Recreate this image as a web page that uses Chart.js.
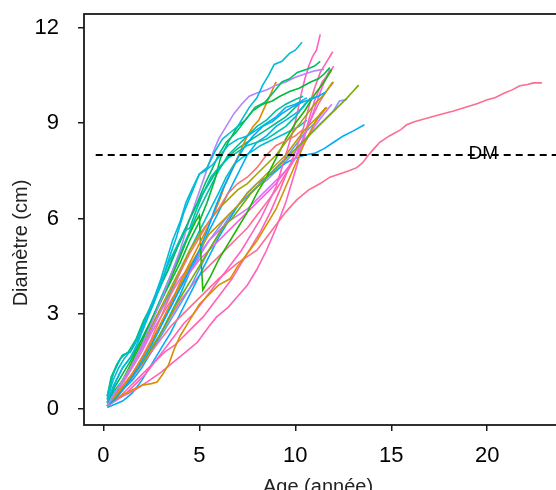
<!DOCTYPE html>
<html>
<head>
<meta charset="utf-8">
<script src="https://cdn.jsdelivr.net/npm/chart.js@4.4.1/dist/chart.umd.min.js"></script>
<style>
  html, body { margin: 0; padding: 0; background: #fff; overflow: hidden; }
  #wrap { width: 600px; height: 490px; }
</style>
</head>
<body>
<div id="wrap"><canvas id="c" width="600" height="490"></canvas></div>
<script>
// tick values
const xTicks = [0, 5, 10, 15, 20];
const yTicks = [0, 3, 6, 9, 12];

// reference diameter (DM) line
const dmValue = 8;
const dmSpan = [-0.4, 24];
const dmLabelAge = 19.8;

// growth curves, [age, diameter]
const tree01 = [[0.2,0.3],[0.5,0.9],[0.8,1.3],[1.1,1.6],[1.5,1.9],[1.9,2.4],[2.3,3.0],[2.7,3.6],[3.0,4.1],[3.3,4.7],[3.6,5.3],[4.0,5.9],[4.3,6.5],[4.6,6.9],[5.0,7.4],[5.4,7.6],[5.8,8.1],[6.2,8.5],[6.6,8.7],[7.0,8.9],[7.3,9.2],[7.6,9.5],[8.0,9.8],[8.3,10.2],[8.6,10.5],[8.9,10.85],[9.3,10.95],[9.7,11.2],[10.0,11.3],[10.35,11.55]];
const tree02 = [[0.2,0.2],[0.6,0.8],[1.0,1.3],[1.4,1.6],[1.8,2.1],[2.2,2.7],[2.6,3.3],[3.0,3.9],[3.4,4.7],[3.8,5.4],[4.2,6.2],[4.6,6.8],[5.0,7.4],[5.3,7.5],[5.7,7.7],[6.1,8.0],[6.5,8.3],[7.0,8.5],[7.5,8.6],[8.0,8.8],[8.5,9.0],[9.0,9.2],[9.5,9.5],[10.0,9.6],[10.6,9.8]];
const tree03 = [[0.2,0.4],[0.4,0.9],[0.7,1.4],[1.0,1.7],[1.4,1.8],[1.8,2.2],[2.2,2.8],[2.6,3.3],[3.0,4.0],[3.4,4.6],[3.8,5.1],[4.2,5.6],[4.5,5.7],[4.8,6.2],[5.2,6.8],[5.6,7.3],[6.0,7.6],[6.5,7.9],[7.0,8.1],[7.5,8.3],[8.0,8.4],[8.5,8.5],[9.0,8.7],[9.5,8.9],[10.0,9.2],[10.5,9.6],[11.0,9.85]];
const tree04 = [[0.2,0.3],[0.5,1.1],[0.9,1.6],[1.3,1.8],[1.7,2.2],[2.1,2.8],[2.5,3.2],[2.9,3.8],[3.3,4.3],[3.7,4.9],[4.1,5.4],[4.5,6.0],[4.9,6.5],[5.3,7.1],[5.7,7.6],[6.0,8.0],[6.4,8.4],[6.9,8.7],[7.4,9.1],[7.9,9.5],[8.4,9.65],[8.9,10.0],[9.3,10.3],[9.7,10.4],[10.1,10.6],[10.6,10.7],[11.0,10.8],[11.3,10.95]];
const tree05 = [[0.2,0.1],[0.6,0.5],[1.0,0.9],[1.5,1.4],[2.0,2.0],[2.5,2.7],[3.0,3.4],[3.5,4.2],[4.0,5.0],[4.4,5.8],[4.8,6.5],[5.2,7.2],[5.6,7.9],[6.0,8.5],[6.4,8.9],[6.8,9.3],[7.2,9.6],[7.6,9.85],[8.0,9.95],[8.5,10.05],[9.0,10.2],[9.5,10.3],[10.0,10.45],[10.5,10.55],[11.0,10.65],[11.5,10.7]];
const tree06 = [[0.2,0.2],[0.6,0.7],[1.0,1.1],[1.5,1.6],[2.0,2.2],[2.5,2.8],[3.0,3.4],[3.5,4.0],[4.0,4.6],[4.5,5.3],[5.0,5.9],[5.4,6.5],[5.8,7.2],[6.1,7.9],[6.5,8.4],[7.0,8.9],[7.4,9.1],[7.8,9.4],[8.3,9.6],[8.8,9.7],[9.2,9.85],[9.7,10.0],[10.2,10.1],[10.8,10.3],[11.2,10.4],[11.5,10.55],[11.8,10.75]];
const tree07 = [[0.2,0.1],[0.6,0.3],[1.0,0.6],[1.5,1.0],[2.0,1.5],[2.5,2.0],[3.0,2.6],[3.5,3.2],[4.0,3.8],[4.5,4.4],[5.0,5.0],[5.4,5.6],[5.8,6.3],[6.2,6.9],[6.6,7.4],[7.0,7.9],[7.4,8.3],[7.8,8.6],[8.3,8.9],[8.8,9.05],[9.3,9.3],[9.8,9.5],[10.3,9.65],[10.8,9.75],[11.2,9.85],[11.55,9.97]];
const tree08 = [[0.2,0.2],[0.5,0.7],[1.0,1.3],[1.5,1.7],[2.0,2.2],[2.5,2.8],[3.0,3.5],[3.5,4.2],[4.0,4.9],[4.5,5.6],[5.0,6.3],[5.5,6.9],[6.0,7.5],[6.5,8.0],[7.0,8.3],[7.5,8.6],[8.0,8.9],[8.5,9.1],[9.0,9.4],[9.5,9.6],[10.0,9.75],[10.4,9.85]];
const tree09 = [[0.2,0.1],[0.6,0.4],[1.0,0.7],[1.5,1.1],[2.0,1.6],[2.5,2.1],[3.0,2.7],[3.5,3.3],[4.0,4.0],[4.5,4.6],[5.0,5.2],[5.5,5.8],[6.0,6.5],[6.3,7.0],[6.6,7.4],[6.9,7.8],[7.2,8.2],[7.5,8.6],[7.8,8.9],[8.1,9.1],[8.4,9.5],[8.7,9.9],[9.0,10.3]];
const tree10 = [[0.2,0.1],[0.6,0.4],[1.0,0.7],[1.5,1.1],[2.0,1.6],[2.5,2.2],[3.0,2.9],[3.5,3.6],[4.0,4.3],[4.5,4.9],[5.0,5.4],[5.5,5.9],[6.0,6.3],[6.5,6.8],[7.0,7.1],[7.5,7.3],[8.0,7.6],[8.5,8.0],[9.0,8.3],[9.5,8.45],[10.0,8.6],[10.4,8.8]];
const tree11 = [[0.2,0.1],[0.6,0.5],[1.0,0.9],[1.5,1.4],[2.0,2.0],[2.5,2.6],[3.0,3.2],[3.5,3.8],[4.0,4.4],[4.5,5.0],[5.0,5.5],[5.5,5.9],[6.0,6.3],[6.5,6.6],[7.0,6.9],[7.5,7.1],[8.0,7.4],[8.5,7.7],[9.0,8.0],[9.5,8.4],[10.0,8.8],[10.5,9.2],[11.0,9.6],[11.5,9.9],[11.95,10.3]];
const tree12 = [[0.2,0.1],[0.7,0.4],[1.2,0.8],[1.7,1.2],[2.2,1.6],[2.7,2.1],[3.2,2.6],[3.7,3.2],[4.2,3.7],[4.7,4.2],[5.2,4.7],[5.7,5.2],[6.2,5.7],[6.7,6.0],[7.2,6.4],[7.7,6.8],[8.2,7.1],[8.7,7.4],[9.2,7.7],[9.7,8.0],[10.2,8.3],[10.7,8.6],[11.2,8.9],[11.7,9.2],[12.2,9.5],[12.7,9.8],[13.0,10.0],[13.3,10.2]];
const tree13 = [[0.2,0.1],[0.6,0.5],[1.0,0.9],[1.5,1.5],[2.0,2.1],[2.5,2.8],[3.0,3.4],[3.5,4.1],[4.0,4.8],[4.4,5.4],[4.8,5.9],[5.0,6.1],[5.1,4.6],[5.18,3.75],[5.6,4.2],[6.0,4.7],[6.5,5.2],[7.0,5.7],[7.5,6.2],[8.0,6.8],[8.5,7.3],[9.0,7.9],[9.5,8.5],[10.0,9.0],[10.5,9.4],[11.0,9.9],[11.5,10.3],[11.9,10.7]];
const tree14 = [[0.2,0.1],[0.6,0.4],[1.0,0.7],[1.5,1.1],[2.0,1.6],[2.5,2.1],[3.0,2.7],[3.5,3.3],[4.0,3.9],[4.5,4.5],[5.0,5.0],[5.5,5.5],[6.0,5.8],[6.5,6.1],[7.0,6.4],[7.5,6.8],[8.0,7.1],[8.5,7.4],[9.0,7.7],[9.5,8.0],[10.0,8.4],[10.5,8.8],[11.0,9.1],[11.65,9.5]];
const tree15 = [[0.2,0.1],[0.6,0.3],[1.0,0.45],[1.5,0.6],[2.0,0.75],[2.5,0.8],[2.8,0.85],[3.1,1.1],[3.4,1.4],[3.7,1.9],[4.0,2.3],[4.5,2.8],[5.0,3.3],[5.5,3.6],[6.0,3.9],[6.6,4.1],[7.0,4.5],[7.5,4.9],[8.0,5.3],[8.5,5.8],[9.0,6.3],[9.5,7.0],[10.0,7.7],[10.5,8.4],[11.0,9.0],[11.3,9.3],[11.6,9.5]];
const tree16 = [[0.2,0.1],[0.7,0.3],[1.2,0.5],[1.7,0.8],[2.2,1.1],[2.7,1.5],[3.2,1.9],[3.7,2.3],[4.2,2.7],[4.7,3.0],[5.2,3.4],[5.7,3.8],[6.2,4.2],[6.7,4.6],[7.2,5.0],[7.7,5.5],[8.2,6.0],[8.6,6.5],[9.0,7.0],[9.3,7.6],[9.6,8.2],[9.9,8.8],[10.1,9.3],[10.3,9.9],[10.5,10.4],[10.7,10.8],[10.9,11.1],[11.1,11.3],[11.3,11.8]];
const tree17 = [[0.2,0.1],[0.7,0.3],[1.2,0.6],[1.7,0.9],[2.2,1.2],[2.7,1.5],[3.2,1.8],[3.7,2.0],[4.2,2.3],[4.7,2.6],[5.2,2.9],[5.7,3.3],[6.2,3.7],[6.7,4.1],[7.2,4.6],[7.7,5.1],[8.2,5.6],[8.7,6.2],[9.2,6.9],[9.6,7.5],[10.0,8.1],[10.4,8.8],[10.7,9.5],[11.0,10.1],[11.3,10.6],[11.6,10.9],[11.95,11.25]];
const tree18 = [[0.2,0.1],[0.6,0.4],[1.0,0.8],[1.5,1.3],[2.0,1.8],[2.5,2.4],[3.0,2.9],[3.5,3.4],[4.0,3.9],[4.5,4.3],[5.0,4.7],[5.5,5.0],[6.0,5.3],[6.5,5.6],[7.0,5.9],[7.5,6.2],[8.0,6.5],[8.5,6.8],[9.0,7.1],[9.5,7.5],[10.0,7.9],[10.4,8.5],[10.8,9.1],[11.2,9.8],[11.5,10.3],[11.8,10.7]];
const tree19 = [[0.2,0.1],[0.6,0.5],[1.0,0.9],[1.5,1.4],[2.0,1.9],[2.5,2.5],[3.0,3.1],[3.5,3.6],[4.0,4.1],[4.5,4.5],[5.0,4.9],[5.5,5.3],[6.0,5.6],[6.5,5.9],[7.0,6.1],[7.5,6.3],[8.0,6.6],[8.5,6.9],[9.0,7.2],[9.5,7.5],[10.0,7.9],[10.5,8.4],[11.0,8.9],[11.5,9.3],[11.9,9.6]];
const tree20 = [[0.2,0.1],[0.6,0.25],[1.0,0.4],[1.5,0.55],[1.9,0.7],[2.4,0.9],[3.0,1.15],[3.6,1.45],[4.3,1.8],[4.9,2.1],[5.5,2.6],[5.9,2.9],[6.5,3.2],[7.0,3.55],[7.5,3.9],[8.0,4.4],[8.5,5.0],[9.0,5.7],[9.5,6.5],[9.8,7.1],[10.1,7.7],[10.4,8.4],[10.7,9.1],[11.0,9.7],[11.4,10.3],[11.8,10.6],[12.0,10.8]];
const tree21 = [[0.2,0.1],[0.6,0.35],[1.0,0.6],[1.5,1.0],[2.0,1.4],[2.5,1.8],[3.0,2.2],[3.5,2.6],[4.0,2.9],[4.5,3.2],[5.0,3.5],[5.5,3.8],[6.0,4.1],[6.5,4.35],[7.0,4.6],[7.5,4.8],[8.0,5.0],[8.5,5.4],[9.0,5.8],[9.5,6.2],[10.1,6.6],[10.7,6.9],[11.3,7.1],[11.8,7.3],[12.3,7.4],[12.8,7.5],[13.2,7.6],[13.5,7.75],[13.75,7.95],[14.1,8.2],[14.4,8.4],[14.9,8.6],[15.5,8.8],[15.8,8.95],[16.2,9.05],[16.8,9.15],[17.5,9.27],[18.2,9.38],[19.0,9.53],[19.5,9.62],[20.0,9.74],[20.4,9.8],[20.9,9.95],[21.3,10.05],[21.7,10.18],[22.1,10.22],[22.4,10.27],[22.85,10.27]];
const tree22 = [[0.2,0.05],[0.6,0.15],[1.0,0.25],[1.5,0.5],[2.0,0.9],[2.5,1.4],[3.0,1.9],[3.5,2.4],[4.0,3.0],[4.5,3.6],[5.0,4.2],[5.5,4.8],[6.0,5.4],[6.5,5.9],[7.0,6.4],[7.5,6.8],[8.0,7.1],[8.5,7.3],[9.0,7.5],[9.5,7.75],[10.0,7.9],[10.5,8.0],[11.0,8.05],[11.5,8.2],[12.0,8.4],[12.5,8.6],[13.0,8.75],[13.6,8.95]];
const tree23 = [[0.2,0.1],[0.6,0.4],[1.0,0.6],[1.5,1.0],[2.0,1.4],[2.5,1.8],[3.0,2.3],[3.5,2.8],[4.0,3.3],[4.5,3.8],[5.0,4.4],[5.5,5.0],[6.0,5.5],[6.5,6.0],[7.0,6.4],[7.5,6.7],[8.0,7.0],[8.5,7.3],[9.0,7.6],[9.5,7.9],[10.0,8.3],[10.5,8.7],[11.0,9.0],[11.5,9.4]];
const tree24 = [[0.2,0.1],[0.6,0.5],[1.0,0.7],[1.5,1.1],[2.0,1.6],[2.5,2.1],[3.0,2.7],[3.5,3.2],[4.0,3.8],[4.5,4.3],[5.0,4.8],[5.5,5.3],[6.0,5.7],[6.5,6.1],[7.0,6.4],[7.5,6.7],[8.0,7.0],[8.5,7.2],[9.0,7.5],[9.5,7.8],[10.0,8.1],[10.5,8.5],[11.0,8.8],[11.5,9.1],[12.0,9.4],[12.3,9.7],[12.7,9.75]];
const tree25 = [[0.2,0.2],[0.6,0.6],[1.0,0.9],[1.5,1.4],[2.0,1.9],[2.5,2.5],[3.0,3.1],[3.5,3.7],[4.0,4.3],[4.5,5.0],[5.0,5.6],[5.5,6.2],[6.0,6.8],[6.4,7.3],[6.8,7.7],[7.2,7.9],[7.7,8.1],[8.2,8.3],[8.7,8.45],[9.2,8.6],[9.7,8.75],[10.2,8.9],[10.6,9.1]];
const tree26 = [[0.2,0.1],[0.6,0.3],[1.0,0.6],[1.5,0.9],[2.0,1.3],[2.5,1.8],[3.0,2.4],[3.5,3.0],[4.0,3.6],[4.5,4.3],[5.0,4.9],[5.5,5.6],[6.0,6.2],[6.5,6.8],[7.0,7.4],[7.5,8.0],[8.0,8.4],[8.5,8.6],[9.0,8.9],[9.5,9.1],[10.0,9.3],[10.4,9.5],[10.8,9.8]];
const tree27 = [[0.2,0.4],[0.4,1.0],[0.7,1.4],[1.0,1.7],[1.4,1.8],[1.8,2.3],[2.2,2.9],[2.6,3.4],[3.0,3.9],[3.4,4.4],[3.8,5.0],[4.2,5.6],[4.6,6.1],[5.0,6.6],[5.4,7.0],[5.8,7.4],[6.2,7.7],[6.6,8.0],[7.0,8.2],[7.5,8.4],[8.0,8.6],[8.5,8.8],[9.0,9.0],[9.5,9.2],[10.0,9.5],[10.4,9.7]];
const tree28 = [[0.2,0.1],[0.6,0.3],[1.0,0.6],[1.5,1.0],[2.0,1.4],[2.5,1.9],[3.0,2.4],[3.5,2.9],[4.0,3.4],[4.5,3.8],[5.0,4.2],[5.5,4.5],[6.0,4.8],[6.5,5.1],[7.0,5.4],[7.5,5.7],[8.0,6.1],[8.5,6.5],[9.0,6.9],[9.5,7.4],[10.0,7.9],[10.4,8.5],[10.8,9.1],[11.2,9.6],[11.6,10.0],[12.0,10.3]];

const trees = [tree01, tree02, tree03, tree04, tree05, tree06, tree07, tree08, tree09, tree10,
  tree11, tree12, tree13, tree14, tree15, tree16, tree17, tree18, tree19, tree20,
  tree21, tree22, tree23, tree24, tree25, tree26, tree27, tree28];

const treeColors = ['#00BCD6', '#00B8E5', '#00C0B0', '#00BE6C', '#B385FF', '#00BA42', '#00A6FF', '#00C19A', '#E38900', '#F8766D',
  '#A3A500', '#72B000', '#1DB700', '#C49A00', '#D89000', '#FF61C3', '#FF64B0', '#F564E3', '#DB72FB', '#FF62BC',
  '#FF6C91', '#00ABFD', '#619CFF', '#8F91FF', '#00BDD0', '#00B0F6', '#00BF7D', '#FF6A98'];

const FONT = "'Liberation Sans', Arial, sans-serif";

const datasets = trees.map((t, i) => ({
  data: t.map(p => ({ x: p[0], y: p[1] })),
  borderColor: treeColors[i],
  borderWidth: 1.6,
  showLine: true,
  pointRadius: 0,
  order: 1
}));

datasets.push({
  data: dmSpan.map(a => ({ x: a, y: dmValue })),
  borderColor: '#000',
  borderWidth: 1.8,
  borderDash: [7, 5],
  showLine: true,
  pointRadius: 0,
  order: 0
});

// box, axis titles and DM label
const decorations = {
  id: 'decorations',
  afterDatasetsDraw(chart) {
    const { ctx, chartArea: a, scales } = chart;
    ctx.save();
    ctx.strokeStyle = '#1a1a1a';
    ctx.lineWidth = 1.8;
    ctx.strokeRect(a.left, a.top, a.right - a.left, a.bottom - a.top);

    ctx.fillStyle = '#000';
    ctx.font = '19px ' + FONT;
    ctx.textAlign = 'center';
    ctx.textBaseline = 'middle';
    ctx.fillText('DM', scales.x.getPixelForValue(dmLabelAge), scales.y.getPixelForValue(dmValue) - 1);

    ctx.fillStyle = '#222';
    ctx.font = '20px ' + FONT;
    ctx.textBaseline = 'alphabetic';
    ctx.fillText('Age (année)', 318, 492.5);

    ctx.translate(21, 243);
    ctx.rotate(-Math.PI / 2);
    ctx.textBaseline = 'middle';
    ctx.fillText('Diamètre (cm)', 0, 0);
    ctx.restore();
  }
};

new Chart(document.getElementById('c'), {
  type: 'scatter',
  data: { datasets },
  options: {
    responsive: false,
    animation: false,
    events: [],
    layout: { padding: { left: 0, right: 36, top: 14, bottom: 0 } },
    plugins: { legend: { display: false }, tooltip: { enabled: false } },
    elements: { line: { tension: 0 } },
    scales: {
      x: {
        type: 'linear',
        min: -1.01,
        max: 24,
        afterBuildTicks: s => { s.ticks = xTicks.map(v => ({ value: v })); },
        afterFit: s => { s.height = 65; s.paddingLeft = 0; s.paddingRight = 0; },
        grid: { drawOnChartArea: false, tickLength: 6, color: '#1a1a1a', lineWidth: 1.5 },
        border: { display: false },
        ticks: { font: { family: FONT, size: 22 }, color: '#000', padding: 12, maxRotation: 0 }
      },
      y: {
        type: 'linear',
        min: -0.504,
        max: 12.44,
        afterBuildTicks: s => { s.ticks = yTicks.map(v => ({ value: v })); },
        afterFit: s => { s.width = 84; s.paddingTop = 0; s.paddingBottom = 0; },
        grid: { drawOnChartArea: false, tickLength: 6, color: '#1a1a1a', lineWidth: 1.5 },
        border: { display: false },
        ticks: { font: { family: FONT, size: 22 }, color: '#000', padding: 19 }
      }
    }
  },
  plugins: [decorations]
});
</script>
</body>
</html>
